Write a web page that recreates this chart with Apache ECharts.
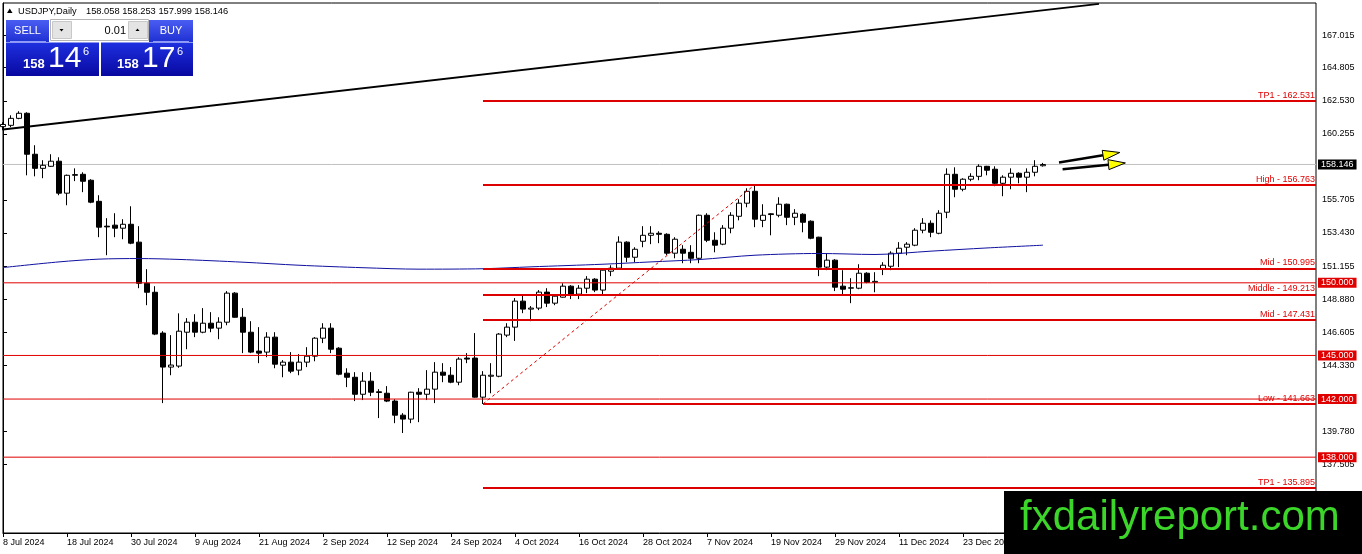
<!DOCTYPE html>
<html>
<head>
<meta charset="utf-8">
<script src="https://cdn.jsdelivr.net/npm/echarts@6/dist/echarts.min.js"></script>
<style>
html,body{margin:0;padding:0;background:#fff;}
#c{width:1362px;height:554px;}
</style>
</head>
<body>
<div id="c"></div>
<script>
// ---- data ----
const symbolTitle = 'USDJPY,Daily';
const headerValues = [158.058, 158.253, 157.999, 158.146];
const dateLabels = ['8 Jul 2024','18 Jul 2024','30 Jul 2024','9 Aug 2024','21 Aug 2024','2 Sep 2024','12 Sep 2024','24 Sep 2024','4 Oct 2024','16 Oct 2024','28 Oct 2024','7 Nov 2024','19 Nov 2024','29 Nov 2024','11 Dec 2024','23 Dec 2024','6 Jan 2025'];
const yTicks = [137.505,139.780,144.330,146.605,148.880,151.155,153.430,155.705,160.255,162.530,164.805,167.015];
// [open, close, low, high] per daily bar
const candles = [
[160.75,160.90,160.50,161.05],[160.84,161.32,160.71,161.53],[161.32,161.67,161.26,161.81],[161.67,158.85,157.40,161.74],
[158.85,157.88,157.33,159.47],[157.88,158.09,157.20,158.44],[158.02,158.37,157.98,158.85],[158.37,156.17,156.03,158.64],
[156.17,157.40,155.34,157.45],[157.40,157.45,157.00,157.88],[157.47,156.99,156.24,157.61],[157.06,155.55,155.48,157.13],
[155.61,153.83,153.14,156.03],[153.90,153.85,151.90,154.45],[153.97,153.76,153.14,154.79],[153.76,154.03,153.00,154.38],
[154.03,152.73,152.66,155.27],[152.80,149.97,149.63,153.90],[149.97,149.35,148.46,150.94],[149.35,146.47,146.40,149.77],
[146.54,144.20,141.72,146.67],[144.20,144.34,143.64,146.40],[144.27,146.67,144.15,147.90],[146.60,147.29,145.43,147.57],
[147.29,146.60,146.26,147.84],[146.60,147.22,146.53,148.26],[147.22,146.88,146.60,147.98],[146.88,147.29,146.12,147.63],
[147.29,149.29,147.08,149.43],[149.29,147.63,147.60,149.36],[147.63,146.60,145.16,148.26],[146.60,145.23,145.16,147.36],
[145.30,145.16,144.47,146.95],[145.23,146.26,144.88,146.60],[146.26,144.40,144.12,146.60],[144.33,144.54,143.50,144.68],
[144.54,143.92,143.78,145.23],[143.99,144.54,143.64,145.09],[144.54,144.95,144.20,145.57],[144.95,146.19,144.60,146.26],
[146.19,146.88,145.85,147.22],[146.88,145.43,145.16,147.22],[145.50,143.71,143.64,145.57],[143.78,143.50,142.82,144.12],
[143.50,142.33,141.86,143.85],[142.33,143.23,141.93,143.85],[143.23,142.47,142.20,143.85],[142.50,142.45,140.69,142.68],
[142.40,141.86,141.79,142.89],[141.86,140.89,140.34,141.99],[140.89,140.62,139.66,141.03],[140.62,142.47,140.34,142.50],
[142.47,142.33,140.41,142.75],[142.33,142.68,141.93,143.99],[142.68,143.85,141.72,144.54],[143.85,143.64,143.16,144.47],
[143.64,143.16,143.09,144.20],[143.16,144.75,142.95,144.88],[144.82,144.75,144.47,145.16],[144.82,142.13,142.10,146.54],
[142.13,143.64,141.66,143.92],[143.57,143.64,142.40,144.47],[143.57,146.47,143.50,146.54],[146.40,146.95,146.26,147.22],
[146.95,148.74,146.00,148.95],[148.74,148.19,147.91,149.15],[148.19,148.26,147.36,148.40],[148.26,149.36,148.12,149.50],
[149.36,148.60,148.33,149.63],[148.60,149.08,148.46,149.22],[149.01,149.77,148.98,149.97],[149.77,149.22,148.88,149.84],
[149.22,149.63,148.88,149.84],[149.63,150.25,149.29,150.46],[150.25,149.50,149.36,150.32],[149.50,150.87,149.15,150.94],
[150.80,151.01,150.46,151.21],[151.01,152.80,150.98,153.20],[152.80,151.76,151.42,152.86],[151.76,152.31,151.42,152.45],
[152.86,153.27,152.45,153.90],[153.27,153.41,152.66,153.90],[153.41,153.34,152.73,153.55],[153.34,152.04,151.90,153.41],
[152.04,153.00,151.69,153.14],[152.31,152.04,151.35,152.59],[152.10,151.69,151.35,152.59],[151.69,154.65,151.35,154.70],
[154.65,152.93,152.80,154.79],[152.93,152.59,152.10,153.48],[152.66,153.76,152.59,153.97],[153.76,154.65,153.41,154.86],
[154.58,155.48,154.30,155.75],[155.48,156.30,155.20,156.51],[156.30,154.38,153.83,156.763],[154.30,154.65,153.83,155.41],
[154.75,154.70,153.27,154.79],[154.65,155.41,154.51,155.89],[155.41,154.51,153.97,155.45],[154.51,154.79,153.97,155.07],
[154.72,154.17,153.48,154.79],[154.24,153.07,153.00,154.30],[153.14,151.08,150.46,153.17],[151.08,151.56,150.87,152.04],
[151.56,149.70,149.43,151.63],[149.77,149.56,149.15,150.87],[149.63,149.66,148.60,150.32],[149.63,150.66,149.56,151.28],
[150.66,150.04,149.97,150.73],[150.04,150.10,149.35,150.73],[150.94,151.21,150.53,151.42],[151.14,152.04,150.87,152.17],
[152.04,152.38,151.08,152.80],[152.45,152.66,151.90,152.80],[152.59,153.62,152.52,153.76],[153.62,154.10,153.41,154.45],
[154.10,153.48,153.14,154.30],[153.41,154.79,153.34,155.00],[154.86,157.47,154.45,157.88],[157.47,156.44,155.89,157.95],
[156.44,157.13,156.30,157.20],[157.13,157.33,156.99,157.54],[157.33,158.02,157.06,158.16],[158.02,157.75,157.40,158.05],
[157.82,156.85,156.65,158.02],[156.85,157.27,155.96,157.40],[157.27,157.54,156.44,157.88],[157.54,157.27,156.85,157.61],
[157.27,157.61,156.24,157.88],[157.61,158.02,157.33,158.44],[158.058,158.146,157.999,158.253]
];
// moving average, sampled [bar, price]
const maPoints = [[0,151.05],[7,151.44],[12,151.63],[17,151.67],[22,151.61],[30,151.42],[37,151.21],[45,151.04],[52,150.94],[60,150.97],[66,151.10],[75,151.28],[81,151.44],[87,151.60],[94,151.90],[102,152.02],[109,151.95],[116,152.18],[123,152.40],[130,152.59]];
// long trend line [bar, price]
const trendLine = [[0,160.55],[137,169.20]];
const currentPrice = 158.146;
const roundLevels = [150, 145, 142, 138];
const fibNames = ['TP1','High','Mid','Middle','Mid','Low','TP1'];
const fibValues = [162.531,156.763,150.995,149.213,147.431,141.663,135.895];
const fibStartBar = 60;
const fibSwing = [[60,141.663],[94,156.763]];
const arrows = [
  {from:[132.0,158.28], to:[139.6,158.97]},
  {from:[132.45,157.82], to:[140.3,158.25]}
];
const sellPrice = ['158','14','6'];
const buyPrice = ['158','17','6'];
const lotSize = '0.01';
const watermark = 'fxdailyreport.com';

// ---- chart ----
const FONT = '"Liberation Sans", Arial, sans-serif';
const X_MAX = 164.125;
const RED = '#e00000';
const chart = echarts.init(document.getElementById('c'), null, {renderer:'canvas'});

const boxLabel = (text, bg) => ({show:true, formatter:text, distance:2, color:'#fff', backgroundColor:bg, padding:[1,3,0,3], fontSize:9, fontFamily:FONT});

const mlData = [];
fibValues.forEach((v, i) => {
  mlData.push([
    {coord:[fibStartBar, v], lineStyle:{color:'#dd0000', width:2, type:'solid'},
     label:{show:true, position:'insideEndTop', distance:[1,1], formatter: fibNames[i] + ' - ' + v.toFixed(3), color:RED, fontSize:9, fontFamily:FONT}},
    {coord:[X_MAX, v]}
  ]);
});
mlData.push([
  {coord: fibSwing[0], lineStyle:{color:RED, width:1, type:[3,3]}, label:{show:false}},
  {coord: fibSwing[1]}
]);

// horizontal full-width levels drawn as line series with an end label on the price axis
const levelSeries = roundLevels.map(v => ({
  type:'line', z:6, symbol:'none', clip:false, silent:true,
  data:[[0, v],[X_MAX, v]],
  lineStyle:{color:RED, width:1},
  endLabel: boxLabel(v.toFixed(3), RED)
}));
levelSeries.push({
  type:'line', z:1, symbol:'none', clip:false, silent:true,
  data:[[0, currentPrice],[X_MAX, currentPrice]],
  lineStyle:{color:'#c0c0c0', width:1},
  endLabel: boxLabel(currentPrice.toFixed(3), '#000')
});

chart.setOption({
  animation:false,
  backgroundColor:'#fff',
  grid:{left:3, right:46, top:3, bottom:21, show:true, borderColor:'#000', borderWidth:1, backgroundColor:'#fff'},
  xAxis:{
    type:'value', min:0, max:X_MAX, interval:8,
    axisLine:{show:true, lineStyle:{color:'#000', width:1}},
    axisTick:{show:true, length:4, lineStyle:{color:'#000'}},
    axisLabel:{show:true, showMaxLabel:false, align:'left', margin:5, fontSize:9, fontFamily:FONT, color:'#000',
      formatter: v => (v % 8 === 0 && dateLabels[v/8]) ? dateLabels[v/8] : ''},
    splitLine:{show:false}
  },
  yAxis:{
    type:'value', position:'right', min:132.78, max:169.26, scale:true,
    axisLine:{show:true, lineStyle:{color:'#000', width:1}},
    axisTick:{show:true, length:4, customValues:yTicks, lineStyle:{color:'#000'}},
    axisLabel:{show:true, customValues:yTicks, margin:6, fontSize:9, fontFamily:FONT, color:'#000',
      formatter: v => v.toFixed(3)},
    splitLine:{show:false}
  },
  series:[
    {type:'candlestick', z:2, barWidth:5, clip:true,
     data: candles.map((r,i) => [i, r[0], r[1], r[2], r[3]]),
     itemStyle:{color:'#ffffff', color0:'#000000', borderColor:'#000000', borderColor0:'#000000', borderWidth:1},
     emphasis:{disabled:true}},
    {type:'line', z:4, data: maPoints, smooth:0.3, symbol:'none', clip:true, silent:true,
     lineStyle:{color:'#1010a0', width:1}},
    {type:'line', z:5, data: trendLine, symbol:'none', clip:true, silent:true,
     lineStyle:{color:'#000', width:2},
     markLine:{silent:true, symbol:['none','none'], animation:false, data: mlData}}
  ].concat(levelSeries)
});

// ---- graphics (header, trade panel, arrows, watermark) ----
const g = [];
const txt = (text, x, y, font, fill, align, valign) => ({type:'text', z:100, style:{text, x, y, font, fill, textAlign:align||'left', textVerticalAlign:valign||'middle'}});
const grad = (a,b) => new echarts.graphic.LinearGradient(0,0,0,1,[{offset:0,color:a},{offset:1,color:b}]);

g.push({type:'polygon', z:100, shape:{points:[[7,13],[12.5,13],[9.75,8.5]]}, style:{fill:'#000'}});
g.push(txt(symbolTitle, 18, 11, '9.3px ' + FONT, '#000'));
g.push(txt(headerValues.map(v => v.toFixed(3)).join(' '), 86, 11, '9.3px ' + FONT, '#000'));

// spin control
g.push({type:'rect', z:99, shape:{x:50.5,y:19.5,width:98,height:21}, style:{fill:'#fff', stroke:'#b4b4b4'}});
g.push({type:'rect', z:100, shape:{x:52.5,y:21.5,width:19,height:17}, style:{fill:'#e4e4e4', stroke:'#c8c8c8'}});
g.push({type:'polygon', z:101, shape:{points:[[59.5,29],[63.5,29],[61.5,31.5]]}, style:{fill:'#000'}});
g.push({type:'rect', z:100, shape:{x:128.5,y:21.5,width:19,height:17}, style:{fill:'#e4e4e4', stroke:'#c8c8c8'}});
g.push({type:'polygon', z:101, shape:{points:[[135.5,31],[139.5,31],[137.5,28.5]]}, style:{fill:'#000'}});
g.push(txt(lotSize, 126, 30.5, '11px ' + FONT, '#000', 'right'));

// SELL
g.push({type:'rect', z:100, shape:{x:6,y:20,width:43,height:22}, style:{fill:grad('#4a5df2','#1f30d2')}});
g.push({type:'line', z:101, shape:{x1:10,y1:41.5,x2:46,y2:41.5}, style:{stroke:'#8f9cff', lineWidth:1}});
g.push(txt('SELL', 27.5, 31, '11px ' + FONT, '#fff', 'center'));
g.push({type:'rect', z:100, shape:{x:6,y:42.5,width:93,height:33.5}, style:{fill:grad('#1e30e0','#0808a0')}});
g.push(txt(sellPrice[0], 23, 71, 'bold 13px ' + FONT, '#fff', 'left', 'bottom'));
g.push(txt(sellPrice[1], 48, 73.5, '30px ' + FONT, '#fff', 'left', 'bottom'));
g.push(txt(sellPrice[2], 83, 46, '11px ' + FONT, '#fff', 'left', 'top'));
// BUY
g.push({type:'rect', z:100, shape:{x:149,y:20,width:44,height:22}, style:{fill:grad('#4a5df2','#1f30d2')}});
g.push({type:'line', z:101, shape:{x1:153,y1:41.5,x2:189,y2:41.5}, style:{stroke:'#8f9cff', lineWidth:1}});
g.push(txt('BUY', 171, 31, '11px ' + FONT, '#fff', 'center'));
g.push({type:'rect', z:100, shape:{x:101,y:42.5,width:92,height:33.5}, style:{fill:grad('#1e30e0','#0808a0')}});
g.push(txt(buyPrice[0], 117, 71, 'bold 13px ' + FONT, '#fff', 'left', 'bottom'));
g.push(txt(buyPrice[1], 142, 73.5, '30px ' + FONT, '#fff', 'left', 'bottom'));
g.push(txt(buyPrice[2], 177, 46, '11px ' + FONT, '#fff', 'left', 'top'));

// arrows positioned through the chart scales
arrows.forEach(a => {
  const p0 = chart.convertToPixel({gridIndex:0}, a.from);
  const p1 = chart.convertToPixel({gridIndex:0}, a.to);
  const dx = p1[0]-p0[0], dy = p1[1]-p0[1];
  const len = Math.sqrt(dx*dx+dy*dy), ux = dx/len, uy = dy/len;
  const hl = 17, hw = 5;
  const bx = p1[0]-ux*hl, by = p1[1]-uy*hl;
  g.push({type:'line', z:100, shape:{x1:p0[0], y1:p0[1], x2:bx, y2:by}, style:{stroke:'#000', lineWidth:2.5}});
  g.push({type:'polygon', z:101, shape:{points:[[p1[0],p1[1]],[bx - uy*hw, by + ux*hw],[bx + uy*hw, by - ux*hw]]}, style:{fill:'#ffff00', stroke:'#000', lineWidth:1}});
});

// watermark
g.push({type:'rect', z:200, shape:{x:1004,y:491,width:358,height:63}, style:{fill:'#000'}});
const wm = txt(watermark, 1020, 518.5, '42px ' + FONT, '#3cd62a', 'left', 'middle');
wm.z = 201;
g.push(wm);

chart.setOption({graphic: g});
</script>
</body>
</html>
